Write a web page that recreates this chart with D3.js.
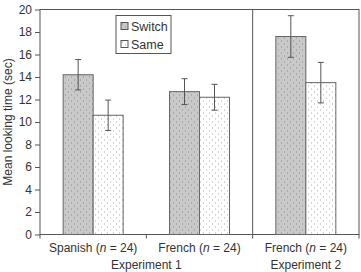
<!DOCTYPE html>
<html>
<head>
<meta charset="utf-8">
<script src="https://cdn.jsdelivr.net/npm/d3@7"></script>
<style>
  body { margin: 0; background: #fff; }
  svg { display: block; font-family: "Liberation Sans", Arial, sans-serif; }
  .axis text { font-size: 12px; fill: #333; }
  .axis path, .axis line { stroke: #555; }
</style>
</head>
<body>
<svg id="chart" width="361" height="272"></svg>
<script>
"use strict";

// groups along the x axis
var groups = ["Spanish", "French", "French "];
var groupN = [24, 24, 24];
var experiments = ["Experiment 1", "Experiment 2"];
var experimentSpan = [[0, 1], [2, 2]];
var conditions = ["Switch", "Same"];

// mean looking time (sec) and error bar half-width
var switchMeans = [14.2, 12.7, 17.6];
var sameMeans = [10.6, 12.2, 13.5];
var switchErr = [1.35, 1.15, 1.85];
var sameErr = [1.35, 1.15, 1.8];
var yTicks = [0, 2, 4, 6, 8, 10, 12, 14, 16, 18, 20];

var svg = d3.select("#chart"),
	margin = { top: 9.5, right: 2, bottom: 37.5, left: 40 },
	width = 361 - margin.left - margin.right,
	height = 272 - margin.top - margin.bottom;

var defs = svg.append("defs");

// dotted fills, staggered grid
function dotPattern(id, bg, dot) {
	var p = defs.append("pattern")
		.attr("id", id)
		.attr("patternUnits", "userSpaceOnUse")
		.attr("width", 6).attr("height", 6);
	p.append("rect").attr("width", 6).attr("height", 6).attr("fill", bg);
	p.append("rect").attr("x", 1).attr("y", 1).attr("width", 1).attr("height", 1).attr("fill", dot);
	p.append("rect").attr("x", 4).attr("y", 4).attr("width", 1).attr("height", 1).attr("fill", dot);
}
dotPattern("dotSwitch", "#c9c9c9", "#8a8a8a");
dotPattern("dotSame", "#ffffff", "#a8a8a8");
var fills = { Switch: "url(#dotSwitch)", Same: "url(#dotSame)" };

var g = svg.append("g").attr("transform", "translate(" + margin.left + "," + margin.top + ")");

var x0 = d3.scaleBand().domain(groups).range([0, width]).paddingInner(0).paddingOuter(0);
var x1 = d3.scaleBand().domain(conditions).range([0, 60]);
var y = d3.scaleLinear().domain([0, 20]).range([height, 0]);

// frame
g.append("rect")
	.attr("width", width).attr("height", height)
	.attr("fill", "none").attr("stroke", "#555");

// divider between experiments
g.append("line")
	.attr("x1", x0("French ")).attr("x2", x0("French "))
	.attr("y1", 0).attr("y2", height)
	.attr("stroke", "#555");

// y axis
g.append("g").attr("class", "axis")
	.call(d3.axisLeft(y).tickValues(yTicks).tickSize(5).tickPadding(3))
	.call(function(s) { s.select(".domain").remove(); });

// x axis ticks at band edges
var xEdges = groups.map(function(d) { return x0(d); }).concat([width]);
g.selectAll(".xtick").data(xEdges).enter().append("line")
	.attr("class", "xtick")
	.attr("x1", function(d) { return d; }).attr("x2", function(d) { return d; })
	.attr("y1", height).attr("y2", height + 4)
	.attr("stroke", "#555");

var rows = [];
groups.forEach(function(gr, i) {
	rows.push({ group: gr, cond: "Switch", mean: switchMeans[i], err: switchErr[i] });
	rows.push({ group: gr, cond: "Same", mean: sameMeans[i], err: sameErr[i] });
});

function barX(d) {
	return x0(d.group) + (x0.bandwidth() - 60) / 2 + x1(d.cond);
}

g.selectAll(".bar").data(rows).enter().append("rect")
	.attr("class", "bar")
	.attr("x", barX)
	.attr("y", function(d) { return y(d.mean); })
	.attr("width", x1.bandwidth())
	.attr("height", function(d) { return height - y(d.mean); })
	.attr("fill", function(d) { return fills[d.cond]; })
	.attr("stroke", "#666").attr("stroke-width", 1);

// error bars
var eb = g.selectAll(".err").data(rows).enter().append("g").attr("class", "err")
	.attr("stroke", "#555").attr("stroke-width", 1);
eb.append("line")
	.attr("x1", function(d) { return barX(d) + x1.bandwidth() / 2; })
	.attr("x2", function(d) { return barX(d) + x1.bandwidth() / 2; })
	.attr("y1", function(d) { return y(d.mean + d.err); })
	.attr("y2", function(d) { return y(d.mean - d.err); });
[1, -1].forEach(function(sgn) {
	eb.append("line")
		.attr("x1", function(d) { return barX(d) + x1.bandwidth() / 2 - 3; })
		.attr("x2", function(d) { return barX(d) + x1.bandwidth() / 2 + 3; })
		.attr("y1", function(d) { return y(d.mean + sgn * d.err); })
		.attr("y2", function(d) { return y(d.mean + sgn * d.err); });
});

// category labels
var cat = g.selectAll(".cat").data(groups).enter().append("text")
	.attr("class", "cat")
	.attr("x", function(d) { return x0(d) + x0.bandwidth() / 2; })
	.attr("y", height + 17)
	.attr("text-anchor", "middle")
	.style("font-size", "12px").style("fill", "#333");
cat.append("tspan").text(function(d) { return d.trim() + " ("; });
cat.append("tspan").style("font-style", "italic").text("n");
cat.append("tspan").text(function(d, i) { return " = " + groupN[i] + ")"; });

// experiment labels
g.selectAll(".exp").data(experiments).enter().append("text")
	.attr("class", "exp")
	.attr("x", function(d, i) {
		var sp = experimentSpan[i];
		return (x0(groups[sp[0]]) + x0(groups[sp[1]]) + x0.bandwidth()) / 2;
	})
	.attr("y", height + 34)
	.attr("text-anchor", "middle")
	.style("font-size", "12px").style("fill", "#333")
	.text(function(d) { return d; });

// y axis title
svg.append("text")
	.attr("transform", "translate(12," + (margin.top + height / 2) + ") rotate(-90)")
	.attr("text-anchor", "middle")
	.style("font-size", "12px").style("fill", "#333")
	.text("Mean looking time (sec)");

// legend
var leg = g.append("g").attr("transform", "translate(76,6)");
leg.append("rect").attr("width", 55).attr("height", 38)
	.attr("fill", "#fff").attr("stroke", "#555");
var li = leg.selectAll(".li").data(conditions).enter().append("g")
	.attr("transform", function(d, i) { return "translate(5," + (7 + i * 18) + ")"; });
li.append("rect").attr("width", 7).attr("height", 7)
	.attr("fill", function(d) { return fills[d]; }).attr("stroke", "#555");
li.append("text").attr("x", 10).attr("y", 8)
	.style("font-size", "12.5px").style("fill", "#333")
	.text(function(d) { return d; });
</script>
</body>
</html>
